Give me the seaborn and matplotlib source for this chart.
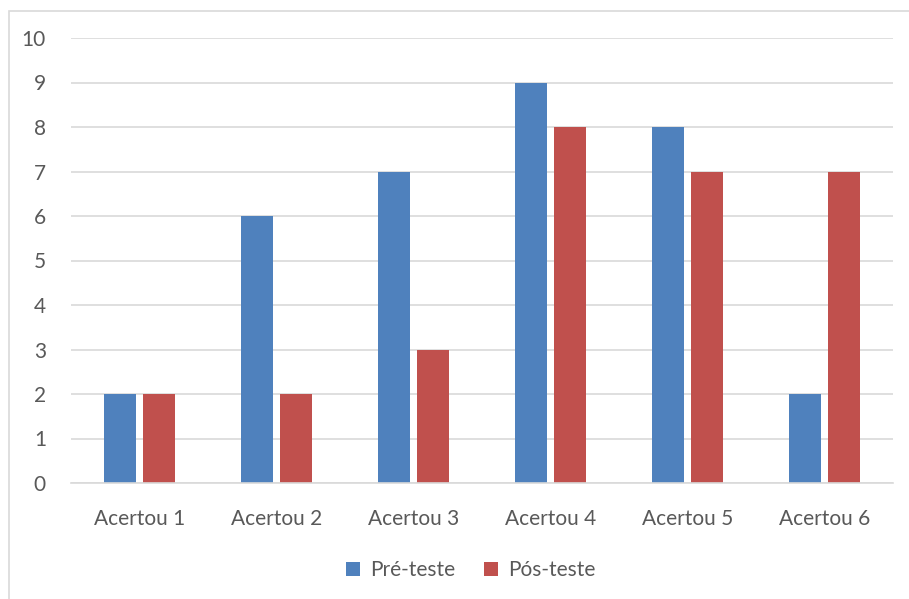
import matplotlib
matplotlib.use("Agg")
import matplotlib.pyplot as plt
import seaborn as sns
import pandas as pd
from matplotlib.patches import Rectangle

categories = ["Acertou 1", "Acertou 2", "Acertou 3", "Acertou 4", "Acertou 5", "Acertou 6"]
pre_teste = [2, 6, 7, 9, 8, 2]
pos_teste = [2, 2, 3, 8, 7, 7]
series = ["Pré-teste", "Pós-teste"]
yticks = list(range(0, 11))

df = pd.DataFrame({
    "categoria": categories * 2,
    "valor": pre_teste + pos_teste,
    "serie": [series[0]] * len(categories) + [series[1]] * len(categories),
})

sns.set_style("white")
plt.rcParams["font.family"] = ["Lato", "DejaVu Sans"]
text_color = "#595959"
grid_color = "#D9D9D9"
fs = 15

W, H = 909, 599
fig = plt.figure(figsize=(W / 100, H / 100), dpi=100)
ax = fig.add_axes([71 / W, 1 - 483 / H, (893 - 71) / W, (483 - 38) / H])

sns.barplot(data=df, x="categoria", y="valor", hue="serie", order=categories,
            hue_order=series, palette=["#4F81BD", "#C0504D"], width=0.57, gap=0.2,
            saturation=1, linewidth=0, ax=ax, legend=True)

ax.set_ylim(0, 10)
ax.set_yticks(yticks)
ax.set_xlim(-0.5, len(categories) - 0.5)
ax.set_xlabel("")
ax.set_ylabel("")
ax.yaxis.grid(True, color=grid_color, linewidth=1.2)
ax.set_axisbelow(True)
for s in ["left", "right", "top"]:
    ax.spines[s].set_visible(False)
ax.spines["bottom"].set_color(grid_color)
ax.spines["bottom"].set_linewidth(1.2)
ax.tick_params(axis="both", length=0, colors=text_color, labelsize=fs)
ax.tick_params(axis="y", pad=18)
ax.tick_params(axis="x", pad=19)

handles, labels = ax.get_legend_handles_labels()
ax.legend_.remove()
fig.legend(handles, labels, loc="center", bbox_to_anchor=(471 / W, 1 - 570 / H),
           ncol=2, frameon=False, fontsize=fs, labelcolor=text_color,
           handlelength=0.65, handleheight=0.65, handletextpad=0.5, columnspacing=1.4)

# light chart-area border
fig.patches.append(Rectangle((8.5 / W, -0.1), 1.2, 1 - 10.5 / H + 0.1,
                             transform=fig.transFigure, fill=False,
                             edgecolor="#D9D9D9", linewidth=1.2))

fig.savefig("out.png", dpi=100)
